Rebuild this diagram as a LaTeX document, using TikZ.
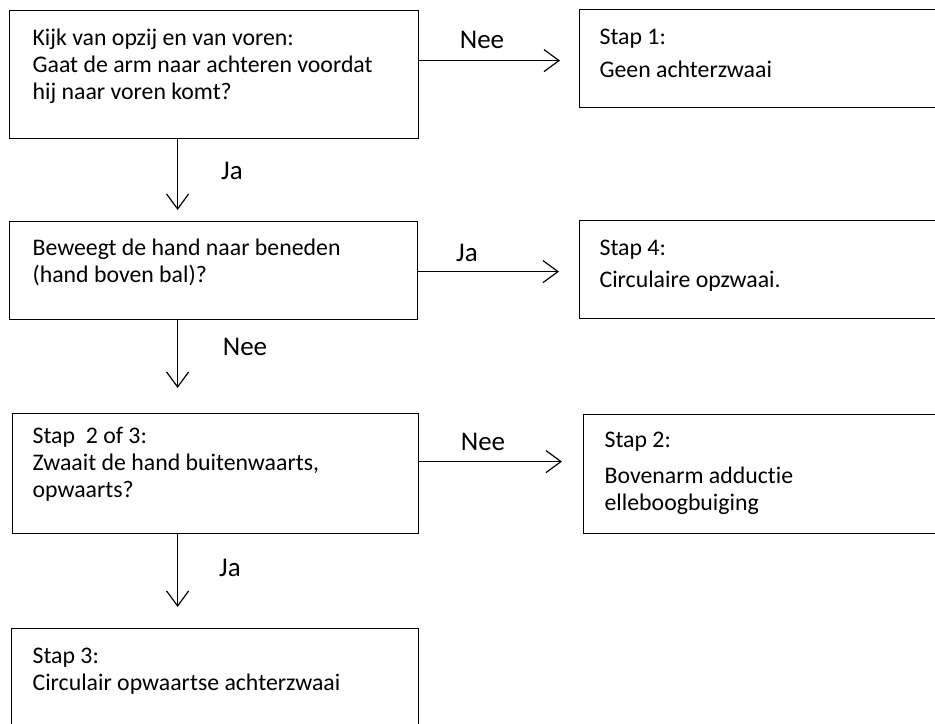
\documentclass[tikz,border=0pt]{standalone}
\usepackage{fontspec}
\setmainfont{Carlito}[Ligatures=NoCommon]
\usetikzlibrary{arrows.meta}
\newcommand{\vak}[8]{\node[vak] (#1) at (#2,#3) {\parbox[b][#5bp][t]{#4bp}{\leftskip=#6bp\rule{0pt}{#7bp}#8}};}
\tikzset{
  vak/.style={draw,line width=1.2bp,anchor=north west,inner sep=0pt},
  pijl/.style={-{Straight Barb[length=15bp,width=22bp]},line width=1.2bp},
  woord/.style={inner sep=0pt,font=\fontsize{27bp}{30bp}\selectfont}
}

\begin{document}
\begin{tikzpicture}[x=1bp,y=-1bp,font=\fontsize{23.8bp}{27bp}\selectfont]
\useasboundingbox (0,0) rectangle (935,724);
\clip (0,0) rectangle (935,724);
% vragen links
\vak{kijk}{9}{10}{409}{128}{23}{35}{Kijk van opzij en van voren:\\Gaat de arm naar achteren voordat\\hij naar voren komt?}
\vak{beweegt}{9}{221}{408}{98}{23}{34}{Beweegt de hand naar beneden\\(hand boven bal)?}
\vak{zwaait}{12}{413}{406}{120}{20}{30}{Stap\ \ 2 of 3:\\Zwaait de hand buitenwaarts,\\opwaarts?}
\vak{stap3}{11}{628}{407}{112}{21}{35}{Stap 3:\\Circulair opwaartse achterzwaai}
% uitkomsten rechts
\vak{stap1}{579}{9}{361}{98}{20}{35}{Stap 1:\\[6bp]Geen achterzwaai}
\vak{stap4}{579}{220}{361}{98}{20}{35}{Stap 4:\\[5bp]Circulaire opzwaai.}
\vak{stap2}{583}{414}{357}{119}{21}{33}{Stap 2:\\[9bp]Bovenarm adductie\\elleboogbuiging}
% pijlen
\draw[pijl,shorten >=11bp] ([xshift=-36.5bp]kijk.south) -- ([xshift=-36.5bp]kijk.south |- beweegt.north);
\draw[pijl,shorten >=25bp] ([xshift=-36bp]beweegt.south) -- ([xshift=-36bp]beweegt.south |- zwaait.north);
\draw[pijl,shorten >=21bp] ([xshift=-38bp]zwaait.south) -- ([xshift=-38bp]zwaait.south |- stap3.north);
\draw[pijl,shorten >=19bp] ([yshift=14bp]kijk.east) -- ([yshift=14bp]kijk.east -| stap1.west);
\draw[pijl,shorten >=20bp] ([yshift=-1bp]beweegt.east) -- ([yshift=-1bp]beweegt.east -| stap4.west);
\draw[pijl,shorten >=21bp] ([yshift=12bp]zwaait.east) -- ([yshift=12bp]zwaait.east -| stap2.west);
% labels bij de pijlen
\node[woord] (ja1) at (232,171) {Ja};
\node[woord] (nee2) at (245,347) {Nee};
\node[woord] (ja3) at (230,568) {Ja};
\node[woord] (nee1) at (482,40) {Nee};
\node[woord] (ja2) at (467,253) {Ja};
\node[woord] (nee3) at (483,442) {Nee};
\end{tikzpicture}
\end{document}
